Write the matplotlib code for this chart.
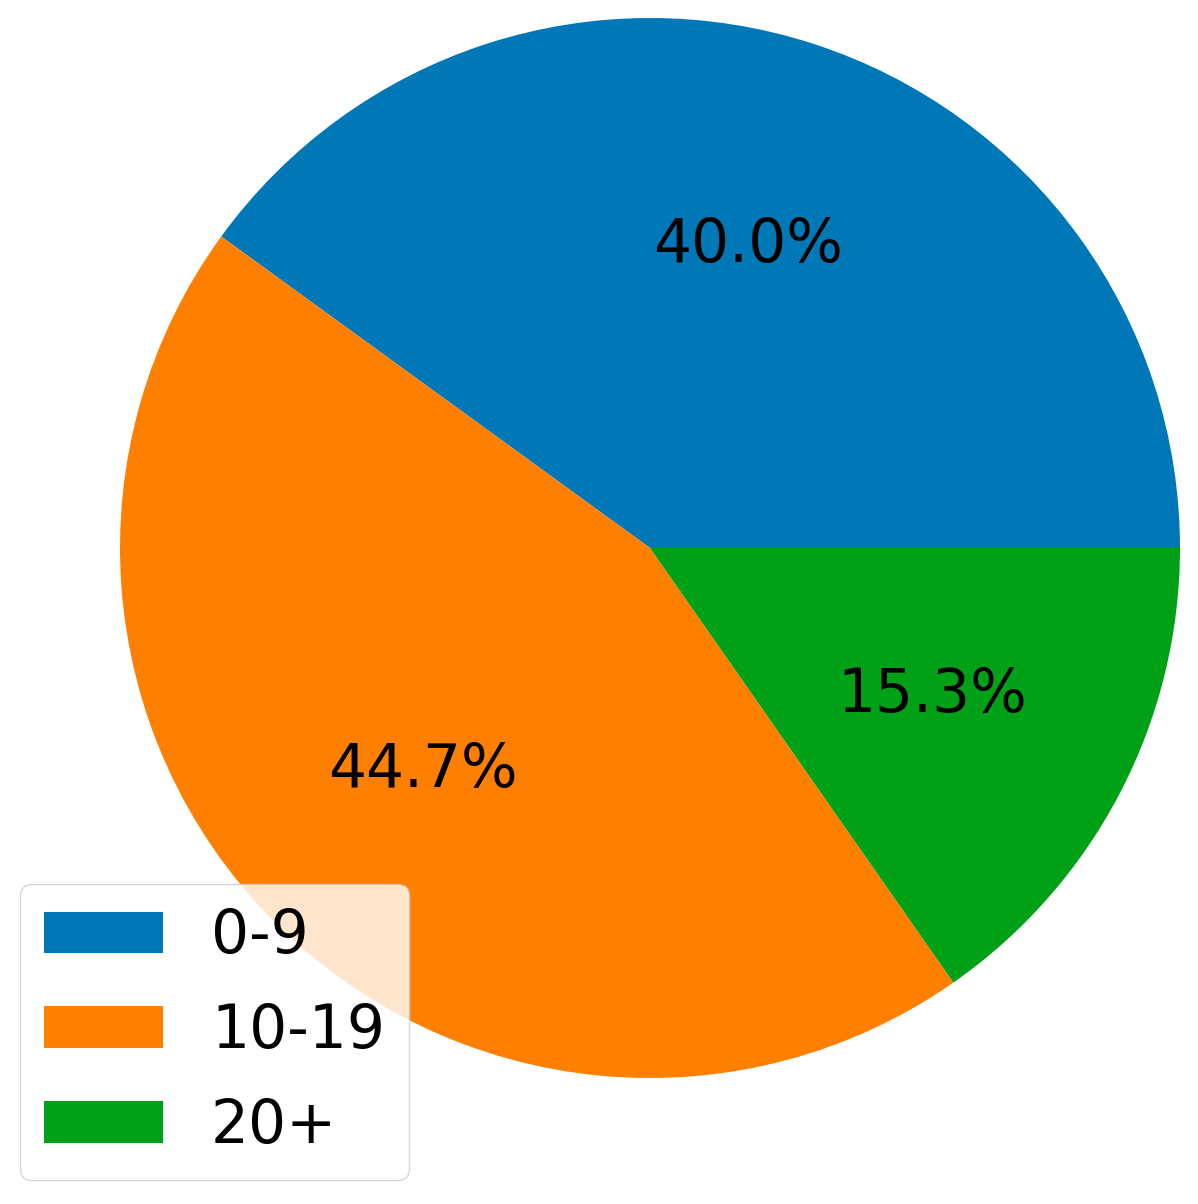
import matplotlib
matplotlib.use("Agg")
import matplotlib.pyplot as plt

categories = ["0-9", "10-19", "20+"]
shares = [40.0, 44.7, 15.3]
colors = ["#0077b6", "#ff8000", "#00a117"]

W, H = 1198, 1204
fig = plt.figure(figsize=(W / 100, H / 100), dpi=100)
cx, cy, r = 650, 548, 530
ax = fig.add_axes([(cx - r) / W, (H - cy - r) / H, 2 * r / W, 2 * r / H])
wedges, texts, autotexts = ax.pie(shares, colors=colors, autopct="%1.1f%%",
                                  startangle=0, pctdistance=0.6,
                                  textprops={"fontsize": 43})
ax.set_xlim(-1, 1)
ax.set_ylim(-1, 1)
ax.set_aspect("equal")
ax.axis("off")

fig.legend(wedges, categories, loc="lower left",
           bbox_to_anchor=(20 / W, 24 / H), bbox_transform=fig.transFigure,
           borderaxespad=0, fontsize=43, framealpha=0.8, labelspacing=0.6)

fig.savefig("out.png", dpi=100)
